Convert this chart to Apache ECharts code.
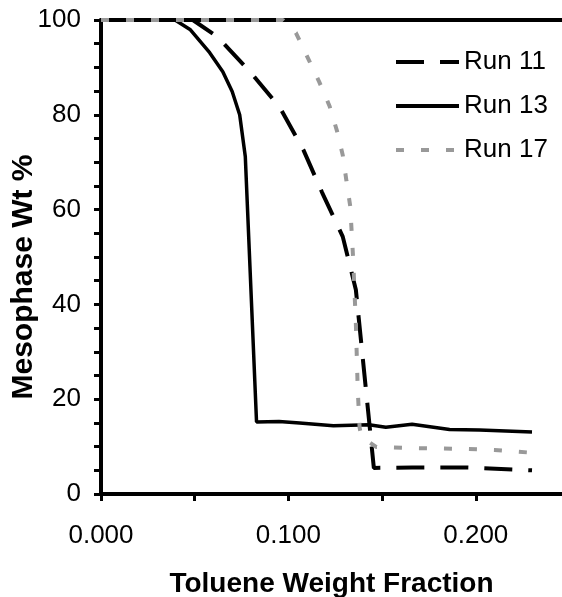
<!DOCTYPE html>
<html>
<head>
<meta charset="utf-8">
<script src="https://cdn.jsdelivr.net/npm/echarts@6/dist/echarts.min.js"></script>
<style>
html, body { margin: 0; padding: 0; background: #fff; }
#chart { width: 562px; height: 597px; }
</style>
</head>
<body>
<div id="chart"></div>
<script>
// data
var run11X = [0, 0.049, 0.062, 0.0795, 0.0955, 0.108, 0.118, 0.129, 0.136, 0.1456, 0.166, 0.196, 0.230];
var run11Y = [100, 100, 96.5, 89.1, 81.5, 72.6, 63.6, 54.3, 43.1, 5.5, 5.6, 5.6, 5.0];

var run13X = [0, 0.0395, 0.0475, 0.058, 0.065, 0.070, 0.074, 0.077, 0.083, 0.095, 0.106, 0.124, 0.143, 0.152, 0.166, 0.186, 0.202, 0.230];
var run13Y = [100, 100, 98.0, 93.1, 89.1, 84.9, 80.0, 71.2, 15.2, 15.3, 15.0, 14.4, 14.6, 14.1, 14.7, 13.6, 13.5, 13.1];

var run17X = [0, 0.097, 0.104, 0.111, 0.1165, 0.122, 0.126, 0.129, 0.131, 0.133, 0.1345, 0.136, 0.137, 0.138, 0.139, 0.147, 0.164, 0.196, 0.210, 0.230];
var run17Y = [100, 100, 97.3, 91.5, 86.9, 81.8, 76.5, 71.5, 66.0, 60.7, 50.0, 36.0, 22.0, 14.0, 12.0, 9.9, 9.7, 9.5, 9.3, 8.7];

var seriesNames = ['Run 11', 'Run 13', 'Run 17'];
var xTitle = 'Toluene Weight Fraction';
var yTitle = 'Mesophase Wt %';

var pairs = function (xs, ys) {
    var out = [];
    for (var i = 0; i < xs.length; i++) {
        out.push([xs[i], ys[i]]);
    }
    return out;
}

var font = 'Liberation Sans, Arial, sans-serif';
var chart = echarts.init(document.getElementById('chart'));

var option = {
    animation: false,
    textStyle: { fontFamily: font, color: '#000' },
    grid: { left: 101, top: 20, right: 0, bottom: 103, containLabel: false, outerBoundsMode: 'none' },
    legend: {
        data: seriesNames,
        orient: 'vertical',
        left: 394,
        top: 49,
        padding: 0,
        itemWidth: 63,
        itemHeight: 20,
        itemGap: 18,
        itemStyle: { opacity: 0 },
        lineStyle: { width: 4 },
        textStyle: { fontSize: 26, color: '#000', fontFamily: font }
    },
    xAxis: [{
        type: 'value',
        min: 0,
        max: 0.246,
        interval: 0.05,
        name: xTitle,
        nameLocation: 'middle',
        nameGap: 76,
        nameTextStyle: { fontSize: 28, fontWeight: 'bold', color: '#000', fontFamily: font },
        axisLine: { lineStyle: { color: '#000', width: 4 } },
        axisTick: { length: 7, lineStyle: { color: '#000', width: 3 } },
        axisLabel: {
            margin: 29,
            fontSize: 26,
            color: '#000',
            showMaxLabel: false,
            formatter: function (v) {
                return Math.abs(v * 10 - Math.round(v * 10)) < 1e-6 ? v.toFixed(3) : '';
            }
        },
        splitLine: { show: false }
    }, {
        type: 'value',
        position: 'top',
        min: 0,
        max: 0.246,
        axisLine: { show: true, lineStyle: { color: '#000', width: 4 } },
        axisTick: { show: false },
        axisLabel: { show: false },
        splitLine: { show: false }
    }],
    yAxis: {
        type: 'value',
        min: 0,
        max: 100,
        interval: 5,
        axisLine: { show: true, lineStyle: { color: '#000', width: 4 } },
        axisTick: { length: 7, lineStyle: { color: '#000', width: 3 } },
        axisLabel: {
            margin: 20,
            fontSize: 26,
            color: '#000',
            formatter: function (v) {
                return v % 20 === 0 ? String(v) : '';
            }
        },
        splitLine: { show: false }
    },
    graphic: [{
        type: 'text',
        x: 24,
        y: 277,
        rotation: Math.PI / 2,
        style: {
            text: yTitle,
            font: 'bold 30px ' + font,
            fill: '#000',
            align: 'center',
            verticalAlign: 'middle'
        }
    }],
    series: [
        {
            name: seriesNames[0],
            type: 'line',
            symbol: 'none',
            data: pairs(run11X, run11Y),
            lineStyle: { color: '#000', width: 4, type: [28, 16] },
            itemStyle: { color: '#000' }
        },
        {
            name: seriesNames[1],
            type: 'line',
            symbol: 'none',
            data: pairs(run13X, run13Y),
            lineStyle: { color: '#000', width: 3.5, type: 'solid' },
            itemStyle: { color: '#000' }
        },
        {
            name: seriesNames[2],
            type: 'line',
            symbol: 'none',
            data: pairs(run17X, run17Y),
            lineStyle: { color: '#999999', width: 4, type: [8, 17] },
            itemStyle: { color: '#999999' }
        }
    ]
};

chart.setOption(option);
</script>
</body>
</html>
